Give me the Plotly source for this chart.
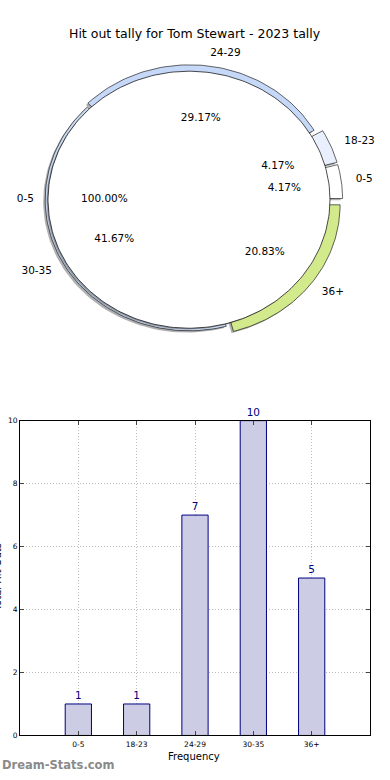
import numpy as np
import plotly.graph_objects as go

# ---------------- data ----------------
categories = ["0-5", "18-23", "24-29", "30-35", "36+"]
counts = [1, 1, 7, 10, 5]
pie_colors = ["#ffffff", "#e9effc", "#c6d8f8", "#c9d9f2", "#d2ea8c"]
explode = [0.07, 0.07, 0.03, 0.0, 0.065]
inner_label = "0-5"
inner_value = [1]
title_text = "Hit out tally for Tom Stewart - 2023 tally"
bar_xlabel = "Frequency"
bar_ylabel = "Total Hit Outs"
yticks = [0, 2, 4, 6, 8, 10]
watermark = "Dream-Stats.com"

FONT = "DejaVu Sans"
W, H = 390, 780

# ---------------- geometry for the pie panel ----------------
RX, RY = 141.0, 130.0      # pixels per unit in x / y
CX, CY = 189.0, 198.0      # pie centre in pixels (from top-left)
R_OUT = 1.02
R_IN = 1.0
TOP_H = 380.0              # top panel height in pixels

x_range = [-CX / RX, (W - CX) / RX]
y_range = [-(TOP_H - CY) / RY, CY / RY]

fig = go.Figure()

total = float(sum(counts))
fracs = [c / total for c in counts]
starts = np.cumsum([0] + fracs[:-1]) * 360.0
ends = starts + np.array(fracs) * 360.0


def wedge(cx, cy, r, a1, a2, n=80):
    th = np.radians(np.linspace(a1, a2, n))
    xs = np.concatenate([[cx], cx + r * np.cos(th), [cx]])
    ys = np.concatenate([[cy], cy + r * np.sin(th), [cy]])
    return xs, ys


SH = 0.014  # shadow offset
SHADOW = "rgba(80,80,80,0.45)"
# shadows of outer wedges
for i in range(len(categories)):
    mid = np.radians((starts[i] + ends[i]) / 2)
    ox, oy = explode[i] * np.cos(mid), explode[i] * np.sin(mid)
    xs, ys = wedge(ox - SH, oy - SH, R_OUT, starts[i], ends[i])
    fig.add_trace(go.Scatter(x=xs, y=ys, mode="lines", fill="toself",
                             fillcolor=SHADOW, line=dict(width=0),
                             hoverinfo="skip", showlegend=False))
# outer wedges
for i in range(len(categories)):
    mid = np.radians((starts[i] + ends[i]) / 2)
    ox, oy = explode[i] * np.cos(mid), explode[i] * np.sin(mid)
    xs, ys = wedge(ox, oy, R_OUT, starts[i], ends[i])
    fig.add_trace(go.Scatter(x=xs, y=ys, mode="lines", fill="toself",
                             fillcolor=pie_colors[i], line=dict(color="black", width=0.6),
                             hoverinfo="skip", showlegend=False))
# inner full pie (100 %) shadow + disc
th = np.radians(np.linspace(0, 360, 240))
fig.add_trace(go.Scatter(x=R_IN * np.cos(th) - SH * 0.7, y=R_IN * np.sin(th) - SH * 0.7,
                         mode="lines", fill="toself", fillcolor=SHADOW,
                         line=dict(width=0), hoverinfo="skip", showlegend=False))
fig.add_trace(go.Scatter(x=R_IN * np.cos(th), y=R_IN * np.sin(th), mode="lines",
                         fill="toself", fillcolor="#ffffff",
                         line=dict(color="black", width=0.7),
                         hoverinfo="skip", showlegend=False))

# labels of the outer pie
lx, ly, lpos, ptx, pty, ptxt = [], [], [], [], [], []
for i in range(len(categories)):
    mid = np.radians((starts[i] + ends[i]) / 2)
    ox, oy = explode[i] * np.cos(mid), explode[i] * np.sin(mid)
    x = ox + 1.1 * R_OUT * np.cos(mid)
    y = oy + 1.1 * R_OUT * np.sin(mid)
    lx.append(x); ly.append(y)
    lpos.append("middle right" if x > 0 else "middle left")
    ptx.append(ox + 0.6 * R_OUT * np.cos(mid))
    pty.append(oy + 0.6 * R_OUT * np.sin(mid))
    ptxt.append(f"{fracs[i] * 100:.2f}%")
# inner pie labels
mid_in = np.radians(180.0)
lx.append(1.1 * R_IN * np.cos(mid_in)); ly.append(1.1 * R_IN * np.sin(mid_in))
lpos.append("middle left")
ptx.append(0.6 * R_IN * np.cos(mid_in)); pty.append(0.6 * R_IN * np.sin(mid_in))
ptxt.append(f"{100.0 * inner_value[0] / sum(inner_value):.2f}%")

fig.add_trace(go.Scatter(x=lx, y=ly, mode="text", text=categories + [inner_label],
                         textposition=lpos, textfont=dict(family=FONT, size=10.5, color="black"),
                         hoverinfo="skip", showlegend=False, cliponaxis=False))
fig.add_trace(go.Scatter(x=ptx, y=pty, mode="text", text=ptxt,
                         textposition="middle center",
                         textfont=dict(family=FONT, size=10.5, color="black"),
                         hoverinfo="skip", showlegend=False, cliponaxis=False))

# ---------------- bar chart ----------------
xpos = list(range(len(categories)))
fig.add_trace(go.Bar(x=xpos, y=counts, width=0.45, marker=dict(color="#ccccE4",
                     line=dict(color="#000080", width=1)),
                     text=[str(c) for c in counts], textposition="outside",
                     textfont=dict(family=FONT, size=10.5, color="#000080"),
                     cliponaxis=False, xaxis="x2", yaxis="y2",
                     hoverinfo="skip", showlegend=False))

top_dom = [1 - TOP_H / H, 1.0]
grid = dict(showgrid=True, gridcolor="#bdbdbd", griddash="1px,2px", gridwidth=1)
fig.update_layout(
    width=W, height=H,
    margin=dict(l=0, r=0, t=0, b=0),
    paper_bgcolor="white", plot_bgcolor="white",
    font=dict(family=FONT, color="black"),
    xaxis=dict(domain=[0, 1], range=x_range, visible=False, fixedrange=True),
    yaxis=dict(domain=top_dom, range=y_range, visible=False, fixedrange=True),
    xaxis2=dict(domain=[20 / W, 370 / W], range=[-1, 5], anchor="y2",
                tickmode="array", tickvals=xpos, ticktext=categories,
                tickfont=dict(family=FONT, size=7.5), ticks="inside", ticklen=4,
                ticklabelstandoff=2,
                showline=True, linecolor="black", linewidth=1, mirror="ticks",
                zeroline=False, fixedrange=True, **grid),
    yaxis2=dict(domain=[1 - 740 / H, 1 - 421.5 / H], range=[0, 10], anchor="x2",
                tickmode="array", tickvals=yticks, ticktext=[str(t) for t in yticks],
                tickfont=dict(family=FONT, size=7.5), ticks="inside", ticklen=4,
                showline=True, linecolor="black", linewidth=1, mirror="ticks",
                zeroline=False, fixedrange=True, **grid),
    bargap=0,
)

fig.add_annotation(text=title_text, xref="paper", yref="paper", x=195 / W, y=1 - 30 / H,
                   xanchor="center", yanchor="middle", showarrow=False,
                   font=dict(family=FONT, size=12.5, color="black"))
fig.add_annotation(text=bar_xlabel, xref="paper", yref="paper", x=194 / W, y=1 - 761 / H,
                   xanchor="center", yanchor="middle", showarrow=False,
                   font=dict(family=FONT, size=10, color="black"))
fig.add_annotation(text=bar_ylabel, xref="paper", yref="paper", x=-3 / W, y=1 - 580 / H,
                   xanchor="center", yanchor="middle", textangle=-90, showarrow=False,
                   font=dict(family=FONT, size=10, color="black"))
fig.add_annotation(text=watermark, xref="paper", yref="paper", x=0, y=1 - 770 / H,
                   xanchor="left", yanchor="middle", showarrow=False,
                   font=dict(family=FONT, size=11.5, color="#8a8a8a", weight="bold"))

fig.write_html("out.html", config={"displayModeBar": False, "staticPlot": True},
               post_script="document.body.style.margin='0';document.body.style.padding='0';")
